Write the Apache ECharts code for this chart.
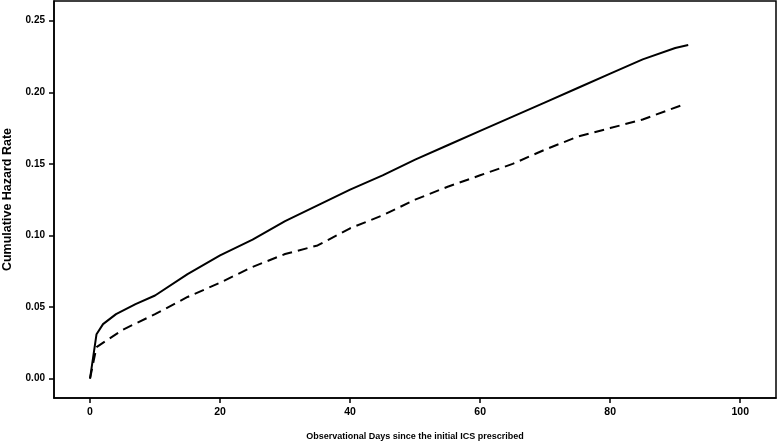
<!DOCTYPE html>
<html>
<head>
<meta charset="utf-8">
<script src="https://cdn.jsdelivr.net/npm/echarts@6/dist/echarts.min.js"></script>
<style>
  html, body { margin: 0; padding: 0; background: #fff; }
  #chart { width: 777px; height: 442px; }
</style>
</head>
<body>
<div id="chart"></div>
<script>
  // solid curve
  var solidDays = [0, 1, 2, 4, 7, 10, 15, 20, 25, 30, 35, 40, 45, 50, 55, 60, 65, 70, 75, 80, 85, 90, 92]
  var solidHazard = [0, 0.031, 0.038, 0.045, 0.052, 0.058, 0.073, 0.086, 0.097, 0.110, 0.121, 0.132, 0.142, 0.153, 0.163, 0.173, 0.183, 0.193, 0.203, 0.213, 0.223, 0.231, 0.233]
  // dashed curve
  var dashedDays = [0, 1, 5, 10, 15, 20, 25, 30, 35, 40, 45, 50, 55, 60, 65, 70, 75, 80, 85, 91]
  var dashedHazard = [0, 0.022, 0.034, 0.045, 0.057, 0.067, 0.078, 0.087, 0.093, 0.105, 0.114, 0.125, 0.134, 0.142, 0.150, 0.160, 0.169, 0.175, 0.181, 0.191]

  var xTicks = [0, 20, 40, 60, 80, 100]
  var yTicks = [0, 0.05, 0.10, 0.15, 0.20, 0.25]

  function pairs(xs, ys) {
    return xs.map(function (x, i) { return [x, ys[i]] })
  }

  var labelFont = {
    color: '#000',
    fontFamily: 'Liberation Sans, Arial, sans-serif',
    fontWeight: 'bold'
  }
  var axisLineStyle = { show: true, onZero: false, lineStyle: { color: '#000', width: 1.5 } }

  var chart = echarts.init(document.getElementById('chart'))
  chart.setOption({
    animation: false,
    backgroundColor: '#fff',
    grid: {
      left: 54,
      right: 1,
      top: 1,
      bottom: 44,
      outerBoundsMode: 'none',
      show: true,
      borderColor: '#000',
      borderWidth: 1.5
    },
    xAxis: {
      type: 'value',
      min: -5.54,
      max: 105.5,
      name: 'Observational Days since the initial ICS prescribed',
      nameLocation: 'middle',
      nameGap: 34,
      nameTextStyle: Object.assign({ fontSize: 9 }, labelFont),
      axisLine: axisLineStyle,
      splitLine: { show: false },
      axisTick: {
        show: true,
        customValues: xTicks,
        length: 5,
        lineStyle: { color: '#000', width: 1.5 }
      },
      axisLabel: Object.assign({
        customValues: xTicks,
        fontSize: 10.5,
        margin: 9
      }, labelFont)
    },
    yAxis: {
      type: 'value',
      min: -0.0136,
      max: 0.2638,
      name: 'Cumulative Hazard Rate',
      nameLocation: 'middle',
      nameGap: 40,
      nameTextStyle: Object.assign({ fontSize: 12.5 }, labelFont),
      axisLine: axisLineStyle,
      splitLine: { show: false },
      axisTick: {
        show: true,
        customValues: yTicks,
        length: 5,
        lineStyle: { color: '#000', width: 1.5 }
      },
      axisLabel: Object.assign({
        customValues: yTicks,
        fontSize: 10,
        margin: 9,
        formatter: function (v) { return v.toFixed(2) }
      }, labelFont)
    },
    series: [{
      type: 'line',
      data: pairs(solidDays, solidHazard),
      showSymbol: false,
      lineStyle: { color: '#000', width: 2 }
    }, {
      type: 'line',
      data: pairs(dashedDays, dashedHazard),
      showSymbol: false,
      lineStyle: { color: '#000', width: 2, type: [10, 6] }
    }]
  })
</script>
</body>
</html>
